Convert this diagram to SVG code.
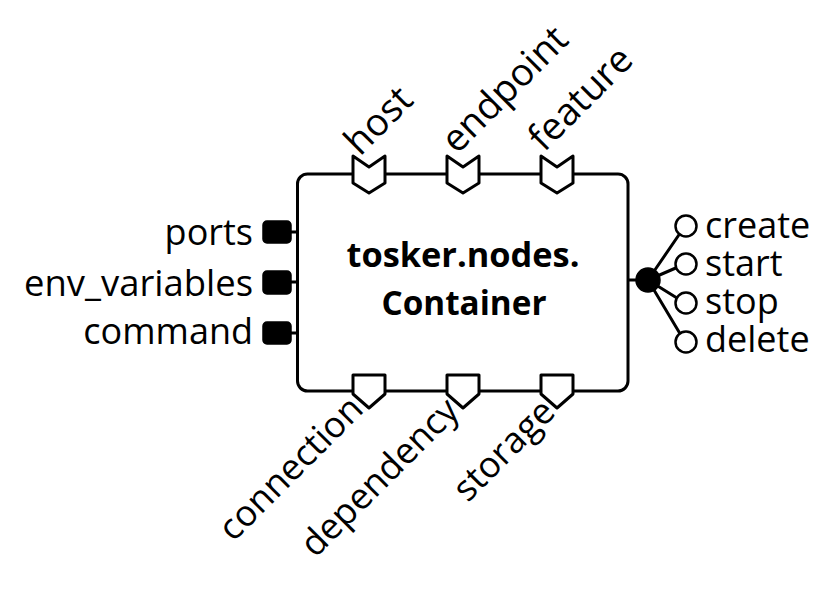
<svg xmlns="http://www.w3.org/2000/svg" width="833" height="600" viewBox="0 0 833 600">
<style>
.ln{stroke:#000;stroke-width:3;fill:none;stroke-linecap:round}
.sh{stroke:#000;stroke-width:3;fill:#fff;stroke-linejoin:round}
.prop{fill:#000;stroke:#000;stroke-width:1.5}
.op{fill:#fff;stroke:#000;stroke-width:2.5}
.t{font-family:"Open Sans","Noto Sans",sans-serif;font-size:36px;fill:#000}
.tc{font-size:38px}
.b{font-family:"Open Sans","Noto Sans",sans-serif;font-size:34px;font-weight:bold;fill:#000}
</style>
<rect width="833" height="600" fill="#fff"/>
<g id="connectors">
<line class="ln" x1="291" y1="232" x2="297" y2="232"/>
<line class="ln" x1="291" y1="282" x2="297" y2="282"/>
<line class="ln" x1="291" y1="333" x2="297" y2="333"/>
<line class="ln" x1="628" y1="280" x2="648" y2="280"/>
<line class="ln" x1="648" y1="280" x2="685" y2="226"/>
<line class="ln" x1="648" y1="280" x2="685" y2="264"/>
<line class="ln" x1="648" y1="280" x2="685" y2="303"/>
<line class="ln" x1="648" y1="280" x2="685" y2="342"/>
</g>
<g id="container">
<rect x="297.5" y="174" width="330.5" height="217" rx="10" class="sh"/>
<text class="b" x="463" y="267" text-anchor="middle" textLength="233" lengthAdjust="spacingAndGlyphs">tosker.nodes.</text>
<text class="b" x="464" y="315" text-anchor="middle" textLength="165" lengthAdjust="spacingAndGlyphs">Container</text>
</g>
<g id="cap-host">
<polygon class="sh" points="353,156 369,167 385,156 385,183 369,193 353,183"/>
<text class="t tc" transform="translate(360,157) rotate(-45)">host</text>
</g>
<g id="cap-endpoint">
<polygon class="sh" points="447,156 463,167 479,156 479,183 463,193 447,183"/>
<text class="t tc" transform="translate(457,155) rotate(-45)">endpoint</text>
</g>
<g id="cap-feature">
<polygon class="sh" points="541,156 557,167 573,156 573,183 557,193 541,183"/>
<text class="t tc" transform="translate(544,153) rotate(-45)">feature</text>
</g>
<g id="req-connection">
<polygon class="sh" points="353,375 385,375 385,394 369,408 353,394"/>
<text class="t" text-anchor="end" transform="translate(365,411) rotate(-45)">connection</text>
</g>
<g id="req-dependency">
<polygon class="sh" points="447,375 479,375 479,394 463,408 447,394"/>
<text class="t" text-anchor="end" transform="translate(461,413) rotate(-45)">dependency</text>
</g>
<g id="req-storage">
<polygon class="sh" points="541,375 573,375 573,394 557,408 541,394"/>
<text class="t" text-anchor="end" transform="translate(557,414) rotate(-45)">storage</text>
</g>
<g id="prop-ports">
<rect class="prop" x="263" y="221" width="28" height="22" rx="4"/>
<text class="t" x="253" y="245" text-anchor="end">ports</text>
</g>
<g id="prop-env_variables">
<rect class="prop" x="263" y="271" width="28" height="23" rx="4"/>
<text class="t" x="253" y="296" text-anchor="end" textLength="229" lengthAdjust="spacingAndGlyphs">env_variables</text>
</g>
<g id="prop-command">
<rect class="prop" x="263" y="322" width="28" height="22" rx="4"/>
<text class="t" x="253" y="344" text-anchor="end">command</text>
</g>
<g id="interface">
<circle cx="648" cy="280" r="12" fill="#000" stroke="#000" stroke-width="1.5"/>
</g>
<g id="op-create">
<circle class="op" cx="686" cy="226" r="10.5"/>
<text class="t" x="705" y="238">create</text>
</g>
<g id="op-start">
<circle class="op" cx="686" cy="264" r="10.5"/>
<text class="t" x="705" y="276">start</text>
</g>
<g id="op-stop">
<circle class="op" cx="686" cy="303" r="10.5"/>
<text class="t" x="705" y="314">stop</text>
</g>
<g id="op-delete">
<circle class="op" cx="686" cy="342" r="10.5"/>
<text class="t" x="705" y="352">delete</text>
</g>
</svg>
